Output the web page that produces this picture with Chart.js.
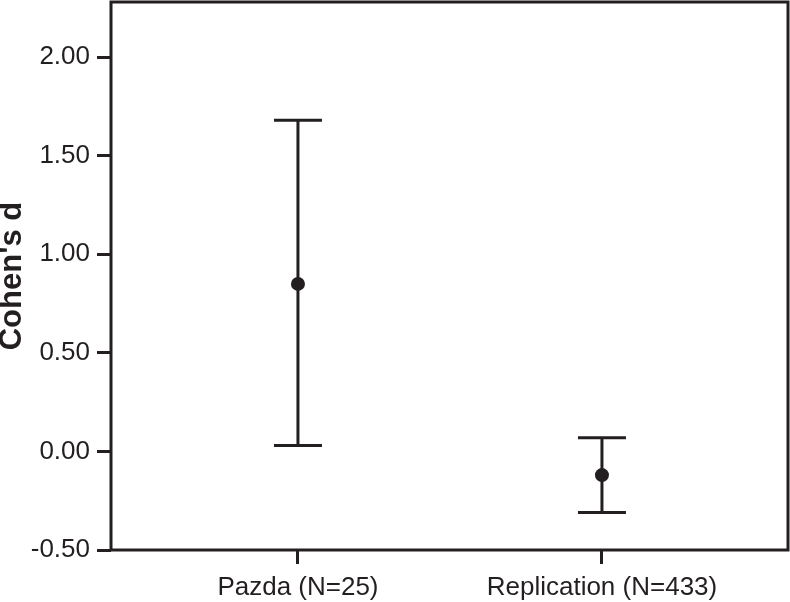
<!DOCTYPE html>
<html>
<head>
<meta charset="utf-8">
<script src="https://cdn.jsdelivr.net/npm/chart.js@4"></script>
<style>
  body { margin: 0; background: #fff; }
  canvas { display: block; }
</style>
</head>
<body>
<canvas id="chart" width="790" height="602"></canvas>
<script>
// effect sizes with 95% CI
const categories = ['Pazda (N=25)', 'Replication (N=433)'];
const means = [0.85, -0.12];
const ciLower = [0.03, -0.31];
const ciUpper = [1.68, 0.07];
const yTicks = [-0.5, 0, 0.5, 1, 1.5, 2];

const ink = '#231f20';

// whiskers drawn through the chart scales
const errorBars = {
  id: 'errorBars',
  beforeDatasetsDraw(chart) {
    const ctx = chart.ctx;
    const xs = chart.scales.x, ys = chart.scales.y;
    ctx.save();
    ctx.strokeStyle = ink;
    ctx.lineWidth = 3;
    categories.forEach((c, i) => {
      const x = xs.getPixelForValue(i + 1);
      const yLo = ys.getPixelForValue(ciLower[i]);
      const yHi = ys.getPixelForValue(ciUpper[i]);
      ctx.beginPath();
      ctx.moveTo(x, yLo); ctx.lineTo(x, yHi);
      ctx.moveTo(x - 24, yLo); ctx.lineTo(x + 24, yLo);
      ctx.moveTo(x - 24, yHi); ctx.lineTo(x + 24, yHi);
      ctx.stroke();
    });
    ctx.restore();
  }
};

// box around the plot area
const frame = {
  id: 'frame',
  afterDraw(chart) {
    const a = chart.chartArea;
    const ctx = chart.ctx;
    ctx.save();
    ctx.strokeStyle = ink;
    ctx.lineWidth = 3;
    ctx.strokeRect(a.left, a.top, a.right - a.left, a.bottom - a.top);
    ctx.restore();
  }
};

// labels never sit on the plot edges here, so drop the edge padding
const noEdgePad = scale => {
  scale.paddingTop = 0;
  scale.paddingBottom = 0;
  scale.paddingLeft = 0;
  scale.paddingRight = 0;
};

new Chart(document.getElementById('chart'), {
  type: 'scatter',
  data: {
    datasets: [{
      data: means.map((m, i) => ({ x: i + 1, y: m })),
      pointRadius: 7,
      pointHoverRadius: 7,
      backgroundColor: ink,
      borderWidth: 0
    }]
  },
  options: {
    responsive: false,
    animation: false,
    layout: { autoPadding: false, padding: { top: 2, right: 2, left: 0, bottom: 0 } },
    plugins: {
      legend: { display: false },
      tooltip: { enabled: false }
    },
    scales: {
      x: {
        type: 'linear',
        min: 0.385,
        max: 2.612,
        afterBuildTicks: scale => { scale.ticks = categories.map((c, i) => ({ value: i + 1 })); },
        afterFit: scale => { scale.height = 52; noEdgePad(scale); },
        border: { display: false },
        grid: { drawOnChartArea: false, drawTicks: true, tickLength: 14, tickWidth: 3, tickColor: ink },
        ticks: {
          autoSkip: false,
          maxRotation: 0,
          padding: 8,
          color: ink,
          font: { family: 'Liberation Sans, Arial, sans-serif', size: 26 },
          callback: v => categories[v - 1]
        }
      },
      y: {
        min: -0.5,
        max: 2.28,
        afterBuildTicks: scale => { scale.ticks = yTicks.map(v => ({ value: v })); },
        afterFit: scale => { scale.width = 111; noEdgePad(scale); },
        border: { display: false },
        grid: { drawOnChartArea: false, drawTicks: true, tickLength: 14, tickWidth: 3, tickColor: ink },
        title: {
          display: true,
          text: "Cohen's d",
          color: ink,
          padding: { top: 0, bottom: 0 },
          font: { family: 'Liberation Sans, Arial, sans-serif', size: 31, weight: 'bold', lineHeight: 0.8 }
        },
        ticks: {
          padding: 7,
          color: ink,
          font: { family: 'Liberation Sans, Arial, sans-serif', size: 26 },
          callback: v => v.toFixed(2)
        }
      }
    }
  },
  plugins: [errorBars, frame]
});
</script>
</body>
</html>
